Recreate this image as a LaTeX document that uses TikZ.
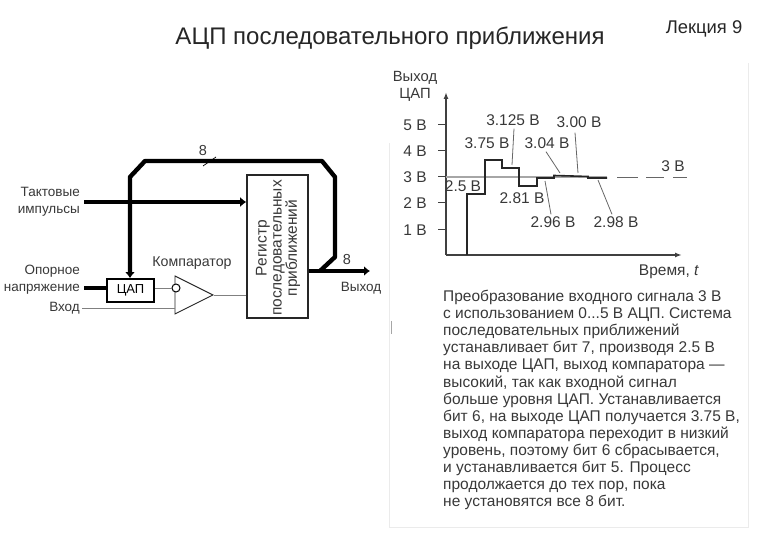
\documentclass[tikz,border=0pt]{standalone}
\usepackage{fontspec}
\setmainfont{Liberation Sans}
\usepackage{tikz}
\usetikzlibrary{arrows.meta, positioning, shapes.geometric}

\begin{document}
\begin{tikzpicture}[
    x=1pt, y=-1pt,
    lbl/.style={inner sep=2pt, text=black!78, font=\fontsize{13.5}{15}\selectfont},
    lblr/.style={lbl, anchor=east, align=right},
    val/.style={inner sep=0pt, text=black!78, font=\fontsize{15.5}{17}\selectfont},
    reg/.style={rectangle, draw=black!85, line width=1.6pt, fill=white, minimum width=61pt, minimum height=143pt},
    dac/.style={rectangle, draw=black, line width=1.8pt, fill=white, minimum width=47pt, minimum height=23pt, inner sep=0pt},
    cmp/.style={isosceles triangle, isosceles triangle apex angle=53, draw=black!85, line width=0.9pt, fill=white, inner sep=0pt, minimum height=38pt, isosceles triangle stretches, minimum width=38pt},
    inv/.style={circle, draw=black, line width=1pt, fill=white, minimum size=8pt, inner sep=0pt},
    bus/.style={draw=black, line width=4.4pt, line join=round},
    busarr/.style={bus, -{Latex[length=6pt, width=10pt]}},
    thin/.style={draw=black!50, line width=0.9pt},
    lead/.style={draw=black!60, line width=0.8pt},
    axis/.style={draw=black!75, line width=1.4pt, -{Latex[length=7pt, width=5pt]}}
]
    \useasboundingbox (0,0) rectangle (780,540);
    \draw[draw=black!8, line width=0.8pt] (748,63) -- (748,527) -- (389,527) -- (389,143);
    \draw[draw=black!35, line width=0.6pt] (391,321) -- (391,334);

    % Titles
    \node[inner sep=0pt, text=black!85, font=\fontsize{24}{27}\selectfont] (TITLE) at (390,38) {АЦП последовательного приближения};
    \node[inner sep=0pt, text=black!85, font=\fontsize{18.4}{20}\selectfont] (LECT) at (704,29) {Лекция 9};

    % Blocks
    \node[reg] (REG) at (277.5,246.5) {};
    \node[lbl, rotate=90, align=center, font=\fontsize{15.5}{15.2}\selectfont] (REGTXT) at (278,248) {Регистр\\последовательных\\приближений};
    \node[dac] (DAC) at (130.5,290.5) {\fontsize{13}{15}\selectfont ЦАП};
    \node[cmp, anchor=apex] (CMP) at (214,295) {};
    \node[inv] (INV) at (176,288) {};
    \node[lbl, font=\fontsize{14.2}{16}\selectfont] (CMPTXT) at (192,263) {Компаратор};

    % Inputs
    \node[lblr, font=\fontsize{13.5}{17}\selectfont] (CLK) at (82,202) {Тактовые\\импульсы};
    \node[lblr, font=\fontsize{13.5}{17}\selectfont] (REF) at (82,280) {Опорное\\напряжение};
    \node[lblr] (IN) at (82,308) {Вход};
    \coordinate (REFIN) at (84,288);
    \coordinate (CLKIN) at (84,202);

    % Bus bends
    \coordinate (OUT) at (370,271);
    \coordinate (B1) at (320,271);
    \coordinate (B2) at (335,257);
    \coordinate (B3) at (335,177);
    \coordinate (B4) at (322,161);
    \coordinate (B5) at (145,161);
    \coordinate (B6) at (130,177);
    \coordinate (T1) at (203,166);
    \coordinate (T2) at (216,157);

    % Connectors
    \draw[busarr] (REG.east |- OUT) -- (OUT);
    \draw[busarr] (B1) -- (B2) -- (B3) -- (B4) -- (B5) -- (B6) -- (DAC.north -| B6);
    \draw[busarr] (CLKIN) -- (CLKIN -| REG.west);
    \draw[bus] (REFIN) -- (REFIN -| DAC.west);
    \draw[thin] (DAC.east |- INV) -- (INV);
    \draw[thin] (IN) -- (IN -| CMP.left corner);
    \draw[thin] (CMP.apex) -- (CMP.apex -| REG.west);
    \draw[draw=black, line width=0.7pt] (T1) -- (T2);

    \node[lbl, font=\fontsize{14.5}{16}\selectfont] (BUSA) at (203,151) {8};
    \node[lbl, font=\fontsize{14.5}{16}\selectfont] (BUSB) at (347,260) {8};
    \node[lbl] (OUTTXT) at (361,288) {Выход};

    % Chart
    \coordinate (O) at (446,255);
    \coordinate (YTOP) at (446,92);
    \coordinate (XEND) at (682,255);
    \draw[axis] (O) -- (YTOP);
    \draw[axis] (O) -- (XEND);
    \node[val, align=center, font=\fontsize{14.8}{17}\selectfont] (YLBL) at (415,86) {Выход\\ЦАП};
    \node[val] (XLBL) at (669,272) {Время, \textit{t}};
    \foreach \v/\yy in {5/125, 4/151, 3/177, 2/203, 1/230} {
        \node[val] (Y\v) at (415,\yy) {\v\ В};
        \draw[draw=black!75, line width=1pt] (438,\yy) -- (446,\yy);
    }

    % Level 3 V
    \draw[draw=black!35, line width=1.2pt] (446,177) -- (607,177);
    \draw[draw=black!60, line width=0.9pt, dash pattern=on 21pt off 8pt on 18pt off 9pt] (617,177) -- (687,177);
    \node[val] (V3) at (673,166) {3 В};

    % Staircase
    \draw[draw=black!85, line width=1.6pt] (467,255) -- (467,194) -- (485,194) -- (485,160) -- (502,160) -- (502,168) -- (519,168) -- (519,186) -- (537,186) -- (537,178) -- (554,178) -- (554,175.5) -- (572,176) -- (588,176.5) -- (588,178) -- (607,178);

    % Values
    \node[val] (A) at (463,186) {2.5 В};
    \node[val] (B) at (487,143) {3.75 В};
    \node[val] (C) at (513,120) {3.125 В};
    \node[val] (D) at (522,198) {2.81 В};
    \node[val] (E) at (553,222) {2.96 В};
    \node[val] (F) at (547,143) {3.04 В};
    \node[val] (G) at (579,122) {3.00 В};
    \node[val] (H) at (616,222) {2.98 В};
    \coordinate (PC) at (512,165);
    \coordinate (PE) at (545,181);
    \coordinate (PF) at (560,173);
    \coordinate (PG) at (578,173);
    \coordinate (PH) at (598,180);
    \draw[lead] (C.south) ++(1,3) -- (PC);
    \draw[lead] (E.north) ++(-2,-2) -- (PE);
    \draw[lead] (F.south) ++(-1,3) -- (PF);
    \draw[lead] (G.south) ++(-4,5) -- (PG);
    \draw[lead] (H.north) ++(-4,-2) -- (PH);

    % Text block
    \node[anchor=north west, inner sep=0pt, align=left, text=black!78, font=\fontsize{15.5}{17.1}\selectfont] (DESC) at (443,290) {Преобразование входного сигнала 3 В\\с использованием 0...5 В АЦП. Система\\последовательных приближений\\устанавливает бит 7, производя 2.5 В\\на выходе ЦАП, выход компаратора ---\\высокий, так как входной сигнал\\больше уровня ЦАП. Устанавливается\\бит 6, на выходе ЦАП получается 3.75 В,\\выход компаратора переходит в низкий\\уровень, поэтому бит 6 сбрасывается,\\и устанавливается бит 5. Процесс\\продолжается до тех пор, пока\\не установятся все 8 бит.};
\end{tikzpicture}
\end{document}
